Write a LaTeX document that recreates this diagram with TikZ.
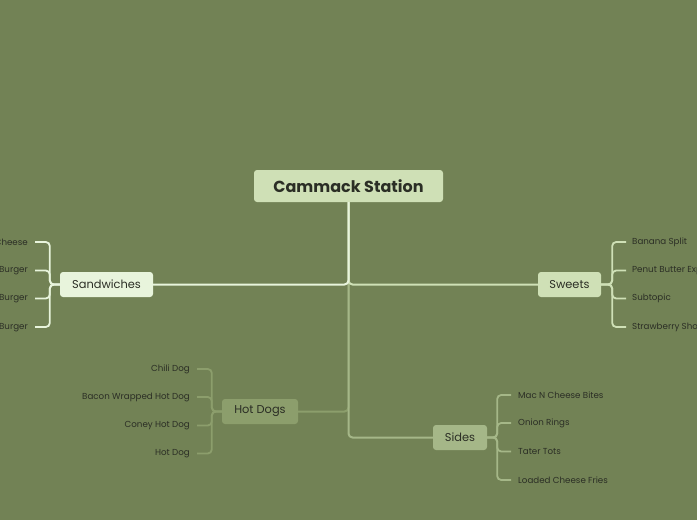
\documentclass[tikz,border=0pt]{standalone}
\usepackage{fontspec}
\setmainfont{Poppins}
\definecolor{bg}{HTML}{728255}
\definecolor{txt}{HTML}{2B2E25}
\definecolor{cSand}{HTML}{E8F4DC}
\definecolor{cSweet}{HTML}{CFE0B6}
\definecolor{cHot}{HTML}{8C9E6C}
\definecolor{cSide}{HTML}{A5B788}
\tikzset{
  topic/.style={rounded corners=3pt, text=txt, inner sep=0pt, font=\fontsize{11.4}{14}\selectfont},
  leaf/.style={text=txt, inner ysep=1pt, inner xsep=7pt, font=\fontsize{8.7}{10}\selectfont},
  conn/.style={line width=2pt, rounded corners=4pt},
  brk/.style={line width=1.8pt, rounded corners=4pt},
}
\begin{document}
\begin{tikzpicture}[x=1pt,y=-1pt]
\fill[bg] (0,0) rectangle (697,520);
\useasboundingbox (0,0) rectangle (697,520);
\clip (0,0) rectangle (697,520);
% topics
\node[topic, fill=cSweet, minimum width=189, minimum height=32, font=\fontsize{16}{18}\selectfont\bfseries] (root) at (348.5,186) {Cammack Station};
\node[topic, fill=cSand, minimum width=93, minimum height=25] (sand) at (106.5,284.5) {Sandwiches};
\node[topic, fill=cSweet, minimum width=63, minimum height=25] (sweet) at (569.5,284.5) {Sweets};
\node[topic, fill=cHot, minimum width=76, minimum height=25] (hot) at (260,411.5) {Hot Dogs};
\node[topic, fill=cSide, minimum width=54, minimum height=25] (side) at (460,437.5) {Sides};
% connectors
\draw[conn, cHot] (root.south) |- (hot.east);
\draw[conn, cSide] (root.south) |- (side.west);
\draw[conn, cSweet] (root.south) |- (sweet.west);
\draw[conn, cSand] (root.south) |- (sand.east);
% sandwiches leaves
\node[leaf, anchor=east] (s1) at (35,242) {Grilled Cheese};
\node[leaf, anchor=east] (s2) at (35,270.5) {Bacon Burger};
\node[leaf, anchor=east] (s3) at (35,298.5) {Cheese Burger};
\node[leaf, anchor=east] (s4) at (35,327) {Veggie Burger};
\foreach \n in {s1,s2,s3,s4} \draw[brk, cSand] (sand.west) -- ++(-10,0) |- (\n.east);
% sweets leaves
\node[leaf, anchor=west, inner xsep=6pt] (w1) at (626,242) {Banana Split};
\node[leaf, anchor=west, inner xsep=6pt] (w2) at (626,270.5) {Penut Butter Explosion};
\node[leaf, anchor=west, inner xsep=6pt] (w3) at (626,298.5) {Subtopic};
\node[leaf, anchor=west, inner xsep=6pt] (w4) at (626,327) {Strawberry Shortcake};
\foreach \n in {w1,w2,w3,w4} \draw[brk, cSweet] (sweet.east) -- ++(11,0) |- (\n.west);
% hot dogs leaves
\node[leaf, anchor=east] (h1) at (197,369) {Chili Dog};
\node[leaf, anchor=east] (h2) at (197,397) {Bacon Wrapped Hot Dog};
\node[leaf, anchor=east] (h3) at (197,425.5) {Coney Hot Dog};
\node[leaf, anchor=east] (h4) at (197,453.5) {Hot Dog};
\foreach \n in {h1,h2,h3,h4} \draw[brk, cHot] (hot.west) -- ++(-10,0) |- (\n.east);
% sides leaves
\node[leaf, anchor=west] (d1) at (511,395) {Mac N Cheese Bites};
\node[leaf, anchor=west] (d2) at (511,423) {Onion Rings};
\node[leaf, anchor=west] (d3) at (511,451.5) {Tater Tots};
\node[leaf, anchor=west] (d4) at (511,480) {Loaded Cheese Fries};
\foreach \n in {d1,d2,d3,d4} \draw[brk, cSide] (side.east) -- ++(10,0) |- (\n.west);
\end{tikzpicture}
\end{document}
